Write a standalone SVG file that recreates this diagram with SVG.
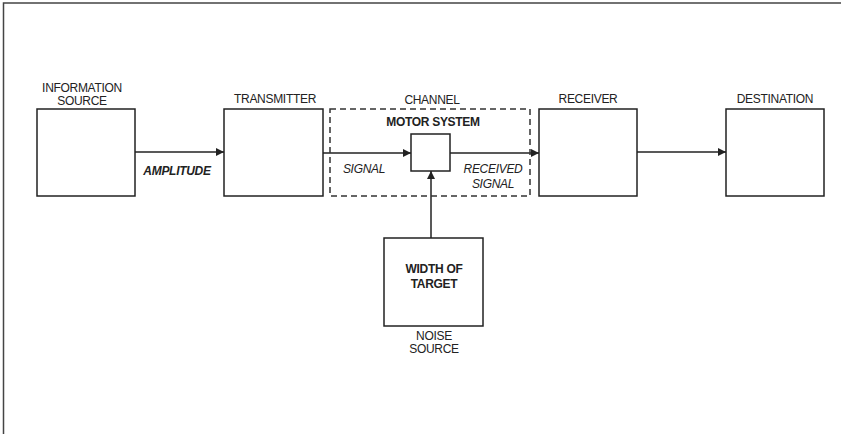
<svg xmlns="http://www.w3.org/2000/svg" width="841" height="434" viewBox="0 0 841 434">
<defs>
<marker id="arr" viewBox="0 0 10 10" refX="10" refY="5" markerWidth="10" markerHeight="8" markerUnits="userSpaceOnUse" orient="auto">
<path d="M0,0 L10,5 L0,10 z" fill="#222"/>
</marker>
</defs>
<style>
.box{fill:#fff;stroke:#222;stroke-width:1.5}
.dash{fill:none;stroke:#333;stroke-width:1.5;stroke-dasharray:6,4}
.ln{fill:none;stroke:#222;stroke-width:1.5}
.t{font-family:"Liberation Sans",Arial,sans-serif;font-size:12px;fill:#222;text-anchor:middle;letter-spacing:-0.3px}
.b{font-weight:bold}
.i{font-style:italic}
</style>
<rect width="841" height="434" fill="#fff"/>
<g id="frame"><path d="M3.5,434 V3 H841" fill="none" stroke="#444" stroke-width="1.5"/></g>
<g id="connectors">
<line class="ln" x1="135" y1="152" x2="224" y2="152" marker-end="url(#arr)"/>
<line class="ln" x1="323" y1="153" x2="411" y2="153" marker-end="url(#arr)"/>
<line class="ln" x1="450" y1="153" x2="539" y2="153" marker-end="url(#arr)"/>
<line class="ln" x1="637" y1="152" x2="726" y2="152" marker-end="url(#arr)"/>
<line class="ln" x1="431" y1="238" x2="431" y2="171" marker-end="url(#arr)"/>
<text class="t b i" x="177" y="175">AMPLITUDE</text>
<text class="t i" x="364" y="173">SIGNAL</text>
<text class="t i" x="493" y="173">RECEIVED</text>
<text class="t i" x="493" y="188">SIGNAL</text>
</g>
<g id="information-source">
<rect class="box" x="37" y="109" width="98" height="87"/>
<text class="t" x="82" y="92">INFORMATION</text>
<text class="t" x="82" y="105">SOURCE</text>
</g>
<g id="transmitter">
<rect class="box" x="224" y="109" width="99" height="87"/>
<text class="t" x="275" y="103">TRANSMITTER</text>
</g>
<g id="channel">
<rect class="dash" x="330" y="109" width="200" height="87"/>
<text class="t" x="432" y="104">CHANNEL</text>
<text class="t b" x="433" y="126">MOTOR SYSTEM</text>
</g>
<g id="motor-system">
<rect class="box" x="411" y="134" width="39" height="37"/>
</g>
<g id="receiver">
<rect class="box" x="539" y="109" width="98" height="87"/>
<text class="t" x="588" y="103">RECEIVER</text>
</g>
<g id="destination">
<rect class="box" x="726" y="109" width="98" height="87"/>
<text class="t" x="775" y="103">DESTINATION</text>
</g>
<g id="noise-source">
<rect class="box" x="384" y="238" width="99" height="88"/>
<text class="t b" x="434" y="273">WIDTH OF</text>
<text class="t b" x="434" y="288">TARGET</text>
<text class="t" x="434" y="340">NOISE</text>
<text class="t" x="434" y="353">SOURCE</text>
</g>
</svg>
